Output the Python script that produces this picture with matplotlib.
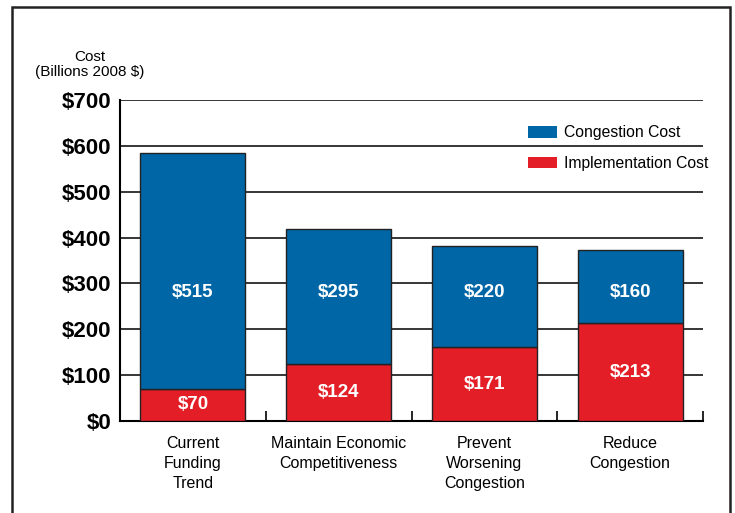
import numpy as np
import matplotlib.pyplot as plt
from matplotlib.patches import Rectangle, Patch

plt.rcParams['font.family'] = ['Liberation Sans', 'DejaVu Sans']

# data
categories = ["Current\nFunding\nTrend", "Maintain Economic\nCompetitiveness",
              "Prevent\nWorsening\nCongestion", "Reduce\nCongestion"]
implementation = [70, 124, 161, 213]
congestion = [515, 295, 221, 160]
impl_labels = ["$70", "$124", "$171", "$213"]
cong_labels = ["$515", "$295", "$220", "$160"]
yticks = [0, 100, 200, 300, 400, 500, 600, 700]

blue = '#0066a6'
red = '#e31e26'

fig = plt.figure(figsize=(7.35, 5.13), dpi=100)
ax = fig.add_axes([0.1633, 0.1793, 0.7932, 0.6258])

x = np.arange(len(categories))
ax.bar(x, implementation, width=0.72, color=red, edgecolor='#222222',
       linewidth=1, zorder=3)
ax.bar(x, congestion, bottom=implementation, width=0.72, color=blue,
       edgecolor='#222222', linewidth=1, zorder=3)

# value labels inside bars
for i in range(len(x)):
    ax.text(x[i], implementation[i] / 2, impl_labels[i], ha='center', va='center',
            color='white', fontsize=13.5, fontweight='bold', zorder=4)
    ax.text(x[i], 281, cong_labels[i], ha='center',
            va='center', color='white', fontsize=13.5, fontweight='bold', zorder=4)

ax.set_xlim(-0.5, len(categories) - 0.5)
ax.set_ylim(0, 700)
ax.set_yticks(yticks)
ax.set_yticklabels(['$' + str(v) for v in yticks], fontsize=16, fontweight='bold')
ax.tick_params(axis='y', length=0, pad=6)
ax.set_xticks(x)
ax.set_xticklabels(categories, fontsize=11.5, linespacing=1.4)
ax.tick_params(axis='x', length=0, pad=11)
ax.set_xticks(np.arange(-0.5, len(categories)), minor=True)
ax.tick_params(axis='x', which='minor', direction='in', length=7, width=1.2)

ax.grid(axis='y', color='black', linewidth=1.1, zorder=0)
ax.set_axisbelow(True)
for s in ['top', 'right']:
    ax.spines[s].set_visible(False)
for s in ['left', 'bottom']:
    ax.spines[s].set_linewidth(1.5)

handles = [Patch(facecolor=blue, edgecolor='none', label='Congestion Cost'),
           Patch(facecolor=red, edgecolor='none', label='Implementation Cost')]
ax.legend(handles=handles, loc='upper left', bbox_to_anchor=(0.676, 0.965),
          frameon=False, fontsize=11.3, handlelength=1.85, handleheight=0.75,
          handletextpad=0.4, labelspacing=1.0)

fig.text(0.122, 0.875, "Cost\n(Billions 2008 $)", ha='center', va='center',
         fontsize=11, linespacing=1.1)

# outer frame
fig.patches.append(Rectangle((12 / 735, -0.05), 718 / 735, 1.05 - 7 / 513,
                             transform=fig.transFigure, fill=False,
                             edgecolor='#222222', linewidth=1.8))

fig.savefig('out.png', dpi=100)
